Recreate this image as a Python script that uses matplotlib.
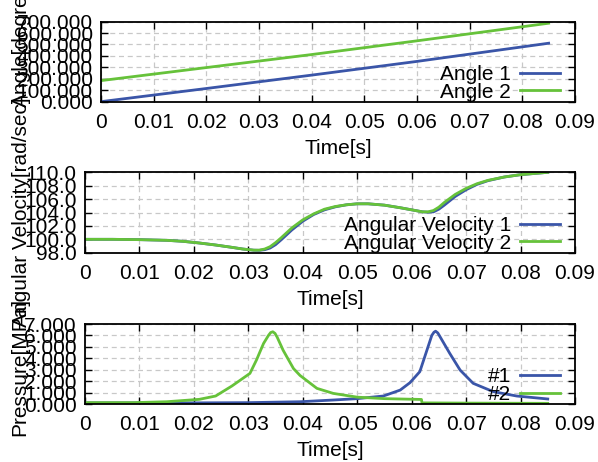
import matplotlib
matplotlib.use("Agg")
import matplotlib.pyplot as plt
from matplotlib.ticker import FixedLocator, FormatStrFormatter

plt.rcParams['font.family'] = ['Liberation Sans', 'DejaVu Sans']
plt.rcParams['font.size'] = 15

BLUE = "#3a55a8"
GREEN = "#66c23a"

# angle [degree]
tAngle = [0, 0.02, 0.04, 0.06, 0.085]
angle1 = [0, 115, 232, 352, 511]
angle2 = [184, 298, 412, 532, 686]

# angular velocity [rad/sec]
tVel = [0, 0.005, 0.01, 0.015, 0.018, 0.021, 0.024, 0.027, 0.029, 0.031, 0.032, 0.033, 0.034,
        0.035, 0.036, 0.038, 0.04, 0.042, 0.044, 0.046, 0.048, 0.05, 0.052, 0.055, 0.058, 0.06,
        0.062, 0.063, 0.064, 0.065, 0.066, 0.068, 0.07, 0.072, 0.074, 0.077, 0.08, 0.085]
vel1 = [100.0, 100.0, 99.95, 99.85, 99.7, 99.45, 99.15, 98.8, 98.55, 98.38, 98.36, 98.45, 98.7,
        99.2, 99.9, 101.4, 102.7, 103.7, 104.4, 104.85, 105.15, 105.3, 105.3, 105.1, 104.7, 104.4,
        104.1, 104.05, 104.1, 104.5, 105.1, 106.4, 107.4, 108.2, 108.75, 109.3, 109.65, 110.0]
vel2 = [100.0, 100.0, 99.95, 99.85, 99.7, 99.45, 99.15, 98.8, 98.55, 98.38, 98.38, 98.55, 98.9,
        99.5, 100.2, 101.7, 102.9, 103.8, 104.5, 104.9, 105.15, 105.3, 105.3, 105.1, 104.7, 104.4,
        104.1, 104.1, 104.3, 104.8, 105.5, 106.7, 107.6, 108.3, 108.8, 109.3, 109.65, 110.0]

# pressure [MPa]
tP1 = [0, 0.02, 0.03, 0.0395, 0.0456, 0.05, 0.0548, 0.0579, 0.0597, 0.0615, 0.0628,
       0.0637, 0.0641, 0.0644, 0.0648, 0.0652, 0.067, 0.0689, 0.0713, 0.075, 0.0793, 0.085]
p1 = [0.1, 0.1, 0.12, 0.2, 0.35, 0.47, 0.7, 1.22, 1.87, 2.83, 4.7,
      6.0, 6.28, 6.37, 6.22, 5.9, 4.43, 2.97, 1.81, 1.08, 0.7, 0.44]
tP2 = [0, 0.009, 0.015, 0.021, 0.024, 0.027, 0.0303, 0.0315, 0.0328, 0.0337, 0.0341, 0.0345,
       0.0349, 0.0353, 0.0364, 0.0383, 0.0395, 0.0426, 0.0456, 0.05, 0.055, 0.0618, 0.0619,
       0.07, 0.085]
p2 = [0.12, 0.12, 0.2, 0.41, 0.7, 1.58, 2.68, 3.85, 5.3, 6.0, 6.25, 6.32,
      6.18, 5.85, 4.7, 3.1, 2.5, 1.37, 0.93, 0.6, 0.47, 0.4, 0.1,
      0.08, 0.06]

xTicks = [0, 0.01, 0.02, 0.03, 0.04, 0.05, 0.06, 0.07, 0.08, 0.09]
xLabels = ["0", "0.01", "0.02", "0.03", "0.04", "0.05", "0.06", "0.07", "0.08", "0.09"]


def style(ax, yticks, fmt):
    ax.set_xlim(0, 0.09)
    ax.set_xticks(xTicks)
    ax.set_xticklabels(xLabels)
    ax.set_ylim(yticks[0], yticks[-1])
    ax.yaxis.set_major_locator(FixedLocator(yticks))
    ax.yaxis.set_major_formatter(FormatStrFormatter(fmt))
    ax.tick_params(direction="in", top=True, right=True, length=5, width=1, pad=6)
    ax.tick_params(axis="x", pad=8)
    ax.grid(True, linestyle=(0, (4, 3)), color="#c8c8c8", linewidth=0.9)
    for s in ax.spines.values():
        s.set_linewidth(1.3)
    ax.set_xlabel("Time[s]", labelpad=5)


def legend(ax, widthPx):
    ax.legend(loc="lower right", bbox_to_anchor=(1 - 15.0 / widthPx, 0.0), frameon=False,
              markerfirst=False, handlelength=1.9, handletextpad=0.45, labelspacing=-0.06,
              borderaxespad=0, borderpad=0)


fig = plt.figure(figsize=(5.98, 4.62), dpi=100)

ax1 = fig.add_axes([0.1689, 0.780, 0.7926, 0.1732])
ax1.plot(tAngle, angle1, color=BLUE, lw=2, label="Angle 1")
ax1.plot(tAngle, angle2, color=GREEN, lw=2, label="Angle 2")
style(ax1, [0, 100, 200, 300, 400, 500, 600, 700], "%.3f")
ax1.set_ylabel("Angle[degree]")
ax1.yaxis.set_label_coords(-0.148, 0.746)
legend(ax1, 474)

ax2 = fig.add_axes([0.1421, 0.453, 0.8194, 0.174])
ax2.plot(tVel, vel1, color=BLUE, lw=2, label="Angular Velocity 1")
ax2.plot(tVel, vel2, color=GREEN, lw=2, label="Angular Velocity 2")
style(ax2, [98, 100, 102, 104, 106, 108, 110], "%.1f")
ax2.set_ylabel("Angular Velocity[rad/sec]")
ax2.yaxis.set_label_coords(-0.110, 0.5)
legend(ax2, 490)

ax3 = fig.add_axes([0.1421, 0.1255, 0.8194, 0.1732])
ax3.plot(tP1, p1, color=BLUE, lw=2, label="#1")
ax3.plot(tP2, p2, color=GREEN, lw=2, label="#2")
style(ax3, [0, 1, 2, 3, 4, 5, 6, 7], "%.3f")
ax3.set_ylabel("Pressure[MPa]")
ax3.yaxis.set_label_coords(-0.114, 0.46)
legend(ax3, 490)

plt.savefig("out.png")
